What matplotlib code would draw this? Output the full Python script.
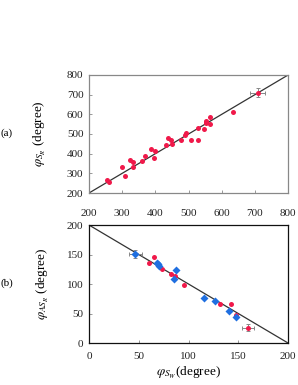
import matplotlib
matplotlib.use("Agg")
import matplotlib.pyplot as plt
import numpy as np

plt.rcParams['font.family'] = ['Liberation Serif', 'DejaVu Serif']
plt.rcParams['mathtext.fontset'] = 'stix'

# Panel (a)
a_x = [255, 260, 299, 307, 325, 334, 332, 360, 369, 387, 395, 400, 433, 438, 446, 450,
       476, 488, 491, 508, 528, 528, 547, 552, 553, 566, 566, 552, 634]
a_y = [265, 256, 333, 287, 369, 356, 332, 362, 386, 426, 379, 412, 443, 480, 468, 450,
       470, 496, 503, 468, 530, 468, 523, 562, 567, 586, 550, 556, 614]
a_err_x, a_err_y, a_err_xe, a_err_ye = [708], [711], [23], [21]

# Panel (b)
b_red_x = [59.8, 65.2, 73.3, 82, 86.7, 95.5, 131.4, 142.9, 148]
b_red_y = [135.6, 146, 125, 117, 114, 97.7, 66.7, 67, 47]
b_red_err_x, b_red_err_y, b_red_err_xe, b_red_err_ye = [159.3], [26], [6], [6]
b_blue_x = [68.2, 69.2, 70, 85, 87, 116, 126.4, 141, 148]
b_blue_y = [136, 134, 130.5, 109, 124, 76, 71, 55, 44]
b_blue_err_x, b_blue_err_y, b_blue_err_xe, b_blue_err_ye = [46.7], [151], [7], [7]

RED = '#f0194a'
BLUE = '#1f6fe0'

fig = plt.figure(figsize=(2.98, 3.85), dpi=100)
ax1 = fig.add_axes([0.2987, 0.4987, 0.668, 0.3065])
ax2 = fig.add_axes([0.2987, 0.109, 0.668, 0.3065])

# (a)
ax1.plot([200, 800], [200, 800], color='#333333', lw=0.9, zorder=1)
ax1.plot(a_x, a_y, 'o', color=RED, ms=3.6, mec='none', zorder=3)
ax1.errorbar(a_err_x, a_err_y, xerr=a_err_xe, yerr=a_err_ye, fmt='o', color=RED, ms=3.6,
             mec='none', ecolor='#888888', elinewidth=0.7, capsize=1.5, capthick=0.7, zorder=3)
ax1.set_xlim(200, 800)
ax1.set_ylim(200, 800)
ax1.set_xticks(np.arange(200, 801, 100))
ax1.set_yticks(np.arange(200, 801, 100))
for s in ax1.spines.values():
    s.set_color('#888888')
    s.set_linewidth(0.9)
ax1.tick_params(direction='in', length=2, labelsize=8, width=0.6, color='#888888', pad=4,
                labelcolor='#222222')
ax1.tick_params(axis='x', pad=11.5)
ax1.set_ylabel(r'$\varphi_{S_R}$ (degree)', fontsize=9.5)
ax1.yaxis.label.set_va('center')
ax1.yaxis.set_label_coords(-0.245, 0.5)
fig.text(0.002, 0.655, '(a)', fontsize=8, va='center', ha='left')

# (b)
ax2.plot([0, 200], [200, 0], color='#333333', lw=0.9, zorder=1)
ax2.plot(b_red_x, b_red_y, 'o', color=RED, ms=3.6, mec='none', zorder=3)
ax2.errorbar(b_red_err_x, b_red_err_y, xerr=b_red_err_xe, yerr=b_red_err_ye, fmt='o', color=RED,
             ms=3.6, mec='none', ecolor='#888888', elinewidth=0.7, capsize=1.5, capthick=0.7, zorder=3)
ax2.plot(b_blue_x, b_blue_y, 'D', color=BLUE, ms=3.6, mec='none', zorder=3)
ax2.errorbar(b_blue_err_x, b_blue_err_y, xerr=b_blue_err_xe, yerr=b_blue_err_ye, fmt='D', color=BLUE,
             ms=3.6, mec='none', ecolor='#888888', elinewidth=0.7, capsize=1.5, capthick=0.7, zorder=3)
ax2.set_xlim(0, 200)
ax2.set_ylim(0, 200)
ax2.set_xticks(np.arange(0, 201, 50))
ax2.set_yticks(np.arange(0, 201, 50))
for s in ax2.spines.values():
    s.set_color('#111111')
    s.set_linewidth(0.9)
ax2.tick_params(direction='in', length=2, labelsize=8, width=0.6, color='#888888', pad=4,
                labelcolor='#222222')
ax2.tick_params(axis='x', pad=6.5)
ax2.set_ylabel(r'$\varphi_{AS_R}$ (degree)', fontsize=9.5)
ax2.yaxis.label.set_va('center')
ax2.yaxis.set_label_coords(-0.23, 0.5)
ax2.set_xlabel(r'$\varphi_{S_W}$(degree)', fontsize=9.5)
ax2.xaxis.label.set_va('center')
ax2.xaxis.set_label_coords(0.5, -0.25)
fig.text(0.002, 0.265, '(b)', fontsize=8, va='center', ha='left')

fig.savefig('out.png', dpi=100)
